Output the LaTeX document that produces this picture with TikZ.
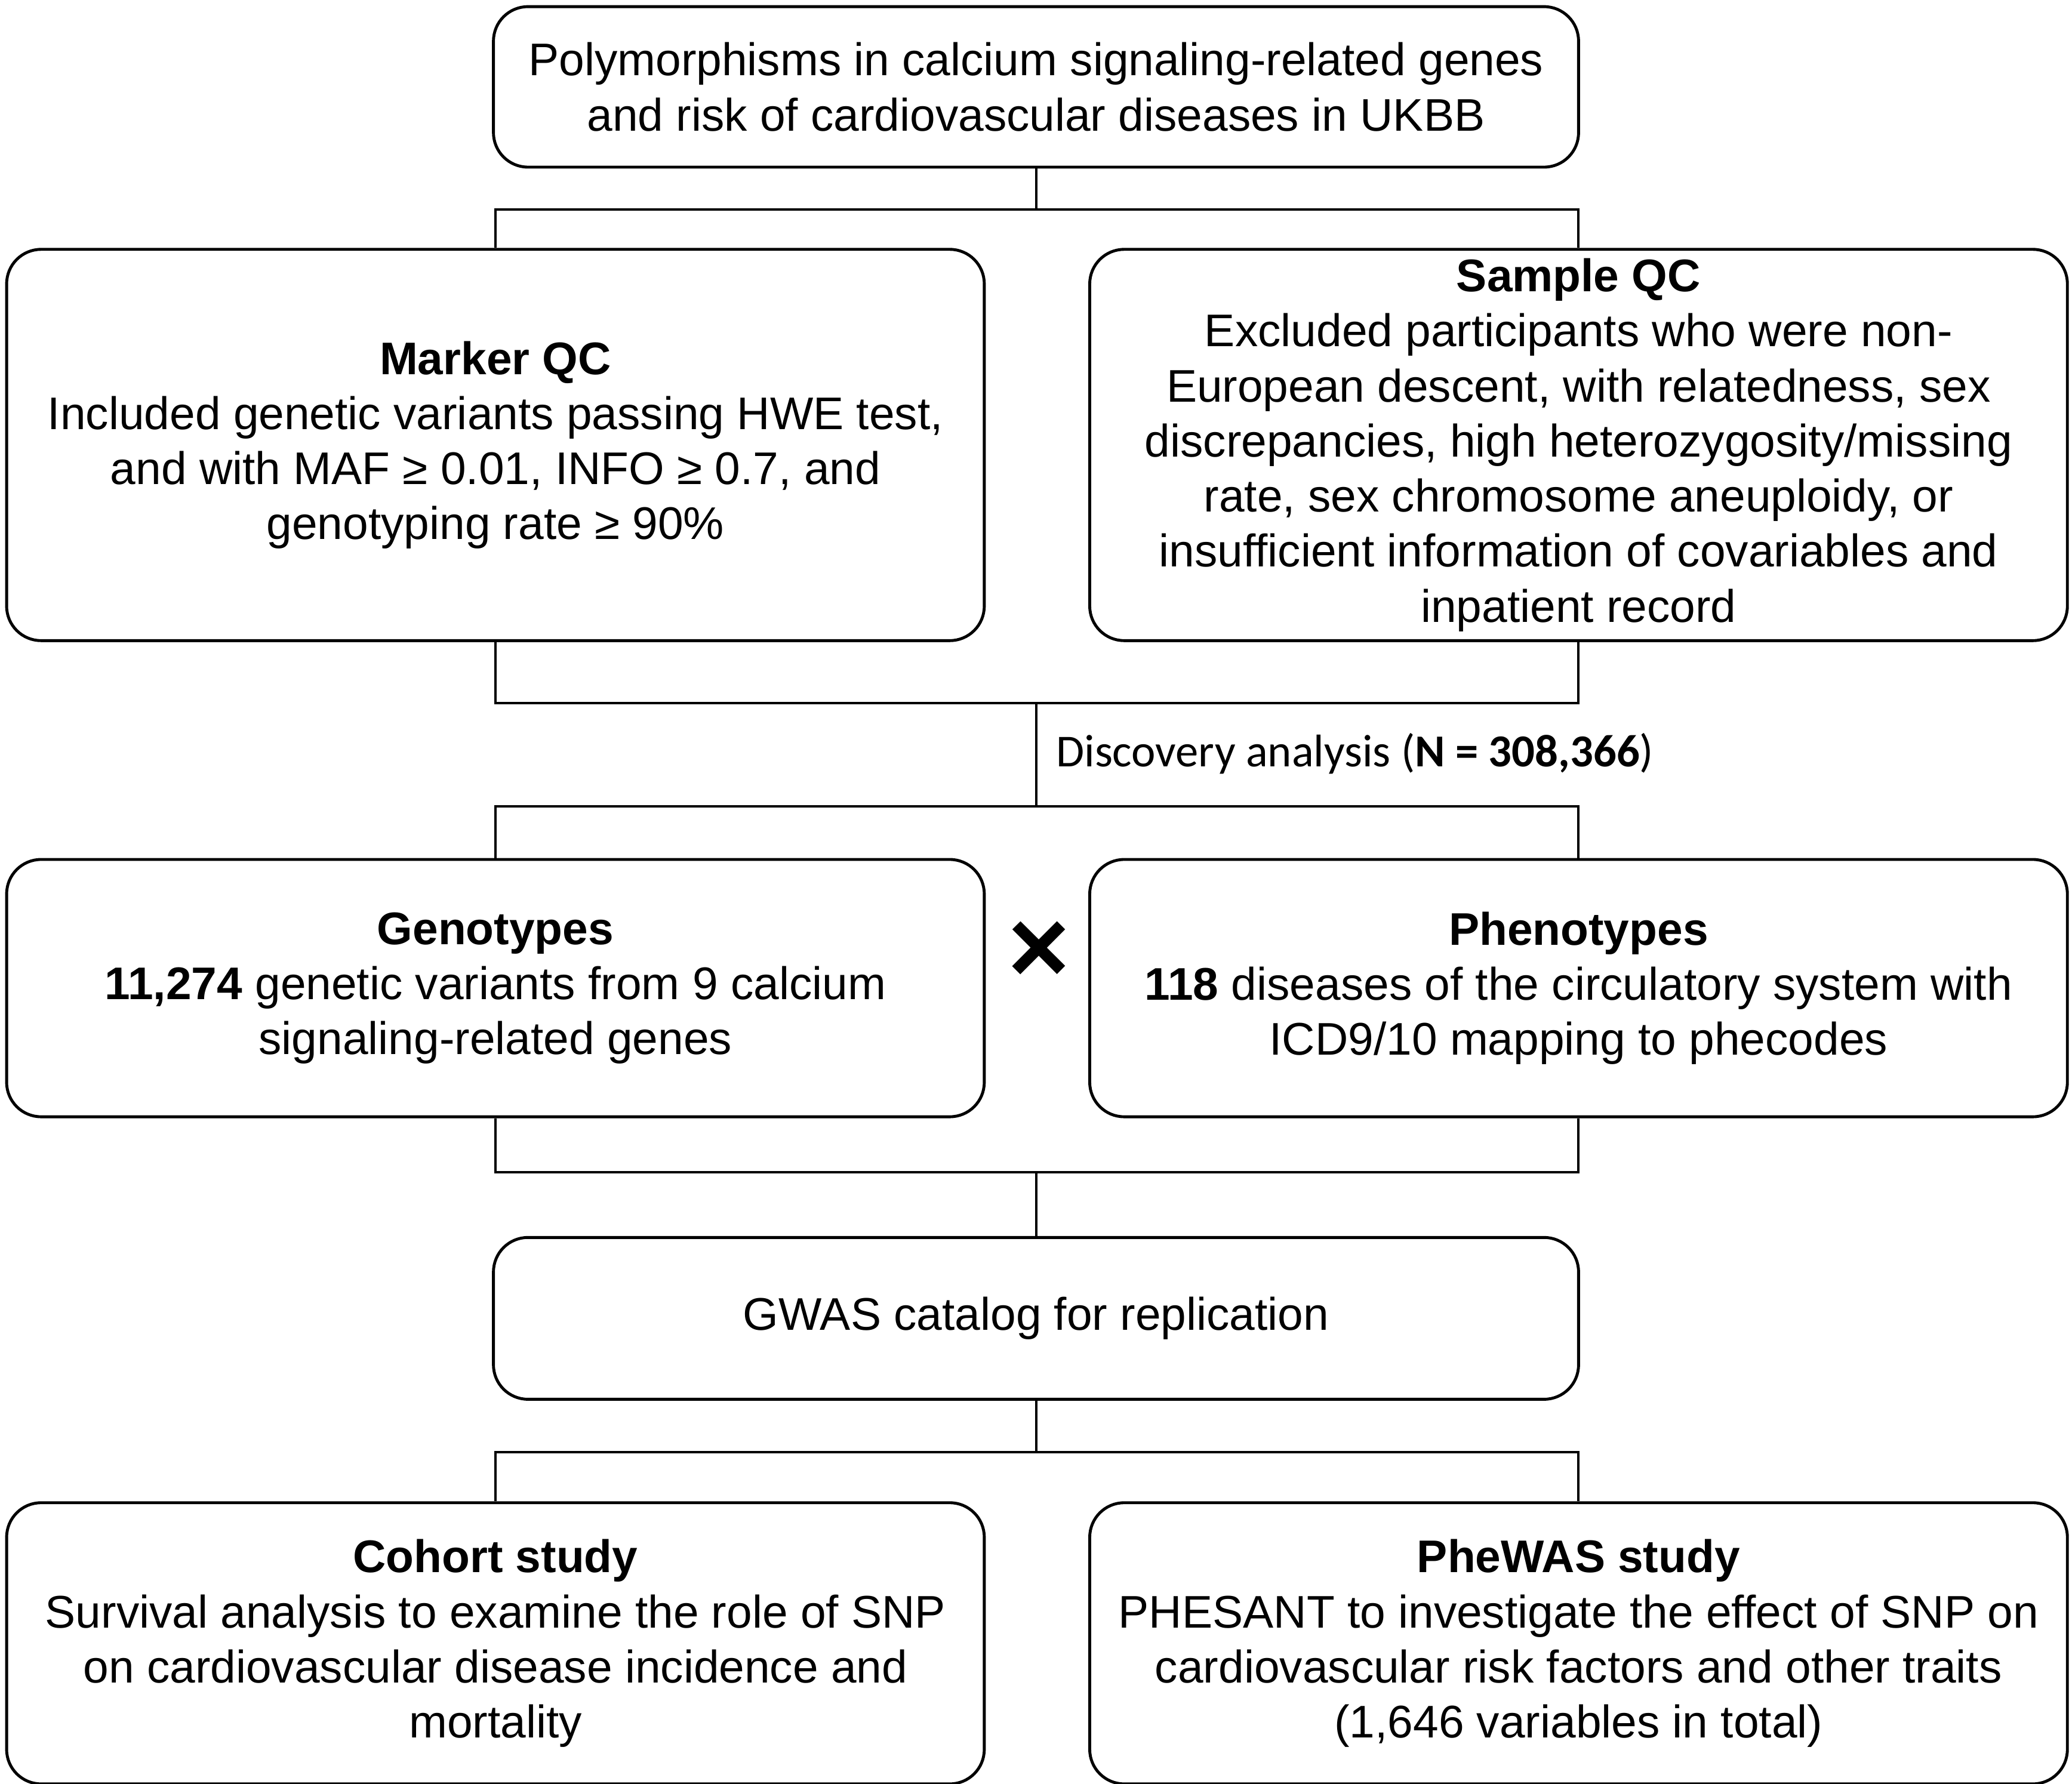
\documentclass[tikz,border=0pt]{standalone}
\usepackage{fontspec}
\setmainfont{Liberation Sans}
\newfontfamily\calfont{Carlito}
\begin{document}
\begin{tikzpicture}[x=1pt,y=-1pt,
  box/.style={draw=black, line width=2.2pt, rounded corners=26pt, inner sep=0pt,
    align=center, font=\fontsize{34.5}{41.5}\selectfont},
  wide/.style={box, minimum width=818pt},
  half/.style={box, minimum width=737pt},
  conn/.style={draw=black, line width=1.8pt}]
\useasboundingbox (0,0) rectangle (1562,1345);
\fill[white] (0,0) rectangle (1562,1345);

\node[wide, minimum height=121pt] (top) at (781,65.5)
  {Polymorphisms in calcium signaling-related genes\\and risk of cardiovascular diseases in UKBB};

\node[half, minimum height=295pt] (marker) at (373.5,335.5)
  {\textbf{Marker QC}\\Included genetic variants passing HWE test,\\and with MAF ≥ 0.01, INFO ≥ 0.7, and\\genotyping rate ≥ 90\%};
\node[half, minimum height=295pt] (sample) at (1190,335.5)
  {\textbf{Sample QC}\\Excluded participants who were non-\\European descent, with relatedness, sex\\discrepancies, high heterozygosity/missing\\rate, sex chromosome aneuploidy, or\\insufficient information of covariables and\\inpatient record};

\node[half, minimum height=194pt] (geno) at (373.5,745)
  {\textbf{Genotypes}\\\textbf{11,274} genetic variants from 9 calcium\\signaling-related genes};
\node[half, minimum height=194pt] (pheno) at (1190,745)
  {\textbf{Phenotypes}\\\textbf{118} diseases of the circulatory system with\\ICD9/10 mapping to phecodes};
\node[inner sep=0pt, font=\fontsize{80}{80}\selectfont\bfseries] (times) at (783,718) {×};

\node[wide, minimum height=122pt] (gwas) at (781,994)
  {GWAS catalog for replication};

\node[half, minimum height=212pt] (cohort) at (373.5,1239)
  {\textbf{Cohort study}\\Survival analysis to examine the role of SNP\\on cardiovascular disease incidence and\\mortality};
\node[half, minimum height=212pt] (phewas) at (1190,1239)
  {\textbf{PheWAS study}\\PHESANT to investigate the effect of SNP on\\cardiovascular risk factors and other traits\\(1,646 variables in total)};

\coordinate (j1) at (781,158);
\coordinate (j2) at (781,530);
\coordinate (j3) at (781,608);
\coordinate (j4) at (781,884);
\coordinate (j5) at (781,1095);

\draw[conn] (top.south) -- (j1);
\draw[conn] (marker.north) |- (j1) -| (sample.north);
\draw[conn] (marker.south) |- (j2) -| (sample.south);
\draw[conn] (j2) -- (j3);
\draw[conn] (geno.north) |- (j3) -| (pheno.north);
\draw[conn] (geno.south) |- (j4) -| (pheno.south);
\draw[conn] (j4) -- (gwas.north);
\draw[conn] (gwas.south) -- (j5);
\draw[conn] (cohort.north) |- (j5) -| (phewas.north);

\node[anchor=west, inner sep=0pt, font=\calfont\fontsize{34.5}{41.5}\selectfont] (disc) at (796,568)
  {Discovery analysis (\textbf{N = 308,366})};
\end{tikzpicture}
\end{document}
